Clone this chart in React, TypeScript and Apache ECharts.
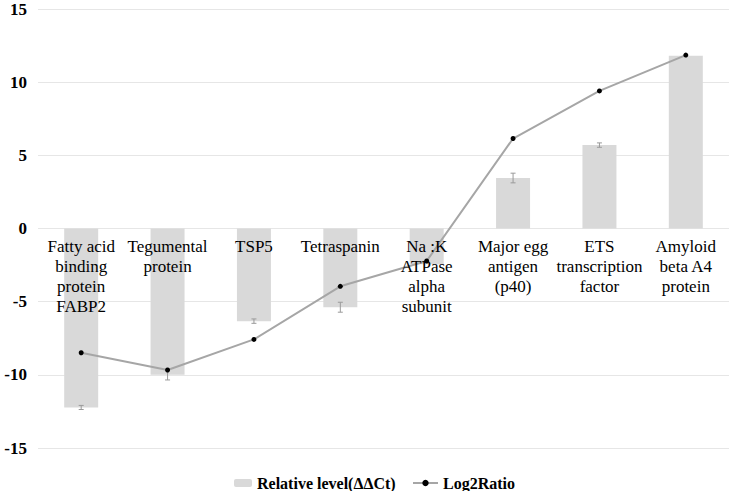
import React, { useEffect, useRef } from "react";
import * as echarts from "echarts";

const categories = [
  "Fatty acid\nbinding\nprotein\nFABP2",
  "Tegumental\nprotein",
  "TSP5",
  "Tetraspanin",
  "Na :K\nATPase\nalpha\nsubunit",
  "Major egg\nantigen\n(p40)",
  "ETS\ntranscription\nfactor",
  "Amyloid\nbeta A4\nprotein",
];
const relativeLevel = [-12.23, -10.0, -6.33, -5.38, -2.45, 3.45, 5.7, 11.8];
const relativeError = [0.14, 0.35, 0.15, 0.34, 0, 0.33, 0.15, 0];
const log2Ratio = [-8.49, -9.67, -7.58, -3.95, -2.22, 6.15, 9.4, 11.85];
const yTicks = { min: -15, max: 15, interval: 5 };

const serif = "Liberation Serif, Times New Roman, serif";
const GRID_TOP = 9;
const GRID_BOTTOM = 43;
const CHART_H = 491;

export default function App() {
  const ref = useRef<HTMLDivElement>(null);
  useEffect(() => {
    if (!ref.current) return;
    const chart = echarts.init(ref.current, undefined, { renderer: "svg" });
    const errData = relativeLevel.map((v, i) => [i, v, relativeError[i]]);
    const gridH = CHART_H - GRID_TOP - GRID_BOTTOM;
    // distance from grid top to the zero line, derived from the axis range
    const zeroOffset = (gridH * (yTicks.max - 0)) / (yTicks.max - yTicks.min);
    chart.setOption({
      animation: false,
      backgroundColor: "#ffffff",
      textStyle: { fontFamily: serif },
      grid: {
        left: 38,
        right: 4,
        top: GRID_TOP,
        bottom: GRID_BOTTOM,
        containLabel: false,
        outerBoundsMode: "none",
      },
      legend: [
        {
          data: ["Relative level(ΔΔCt)"],
          left: 229,
          top: 470,
          itemWidth: 18,
          itemHeight: 8,
          itemGap: 0,
          textStyle: { fontFamily: serif, fontWeight: "bold", fontSize: 16, color: "#000" },
        },
        {
          data: ["Log2Ratio"],
          left: 407,
          top: 470,
          itemWidth: 25,
          itemHeight: 8,
          itemGap: 0,
          textStyle: { fontFamily: serif, fontWeight: "bold", fontSize: 16, color: "#000" },
        },
      ],
      xAxis: {
        type: "category",
        data: categories,
        position: "top",
        offset: -zeroOffset,
        z: 10,
        axisLine: { show: false, onZero: false },
        axisTick: { show: false },
        axisLabel: {
          inside: true,
          interval: 0,
          margin: 8,
          fontFamily: serif,
          fontSize: 17,
          lineHeight: 20,
          color: "#000",
          align: "center",
          verticalAlign: "top",
        },
      },
      yAxis: {
        type: "value",
        min: yTicks.min,
        max: yTicks.max,
        interval: yTicks.interval,
        axisLine: { show: false },
        axisTick: { show: false },
        splitLine: { lineStyle: { color: "#e6e6e6", width: 1 } },
        axisLabel: {
          margin: 11,
          fontFamily: serif,
          fontWeight: "bold",
          fontSize: 17,
          lineHeight: 14,
          color: "#000",
        },
      },
      series: [
        {
          name: "Relative level(ΔΔCt)",
          type: "bar",
          data: relativeLevel,
          barWidth: 34,
          itemStyle: { color: "#d9d9d9" },
          z: 1,
        },
        {
          name: "err",
          type: "custom",
          data: errData,
          z: 2,
          silent: true,
          renderItem: (params: any, api: any) => {
            const x = api.value(0);
            const v = api.value(1);
            const e = api.value(2);
            if (!e) return null;
            const top = api.coord([x, v + e]);
            const bot = api.coord([x, v - e]);
            const cw = 2.5;
            const style = { stroke: "#9a9a9a", lineWidth: 1 };
            return {
              type: "group",
              children: [
                { type: "line", shape: { x1: top[0], y1: top[1], x2: bot[0], y2: bot[1] }, style },
                { type: "line", shape: { x1: top[0] - cw, y1: top[1], x2: top[0] + cw, y2: top[1] }, style },
                { type: "line", shape: { x1: bot[0] - cw, y1: bot[1], x2: bot[0] + cw, y2: bot[1] }, style },
              ],
            };
          },
        },
        {
          name: "Log2Ratio",
          type: "line",
          data: log2Ratio,
          symbol: "circle",
          symbolSize: 5,
          lineStyle: { color: "#a6a6a6", width: 2 },
          itemStyle: { color: "#000" },
          z: 3,
        },
      ],
    });
    return () => chart.dispose();
  }, []);
  return (
    <div
      ref={ref}
      style={{ position: "fixed", left: 0, top: 0, width: 733, height: 491, background: "#fff" }}
    />
  );
}
